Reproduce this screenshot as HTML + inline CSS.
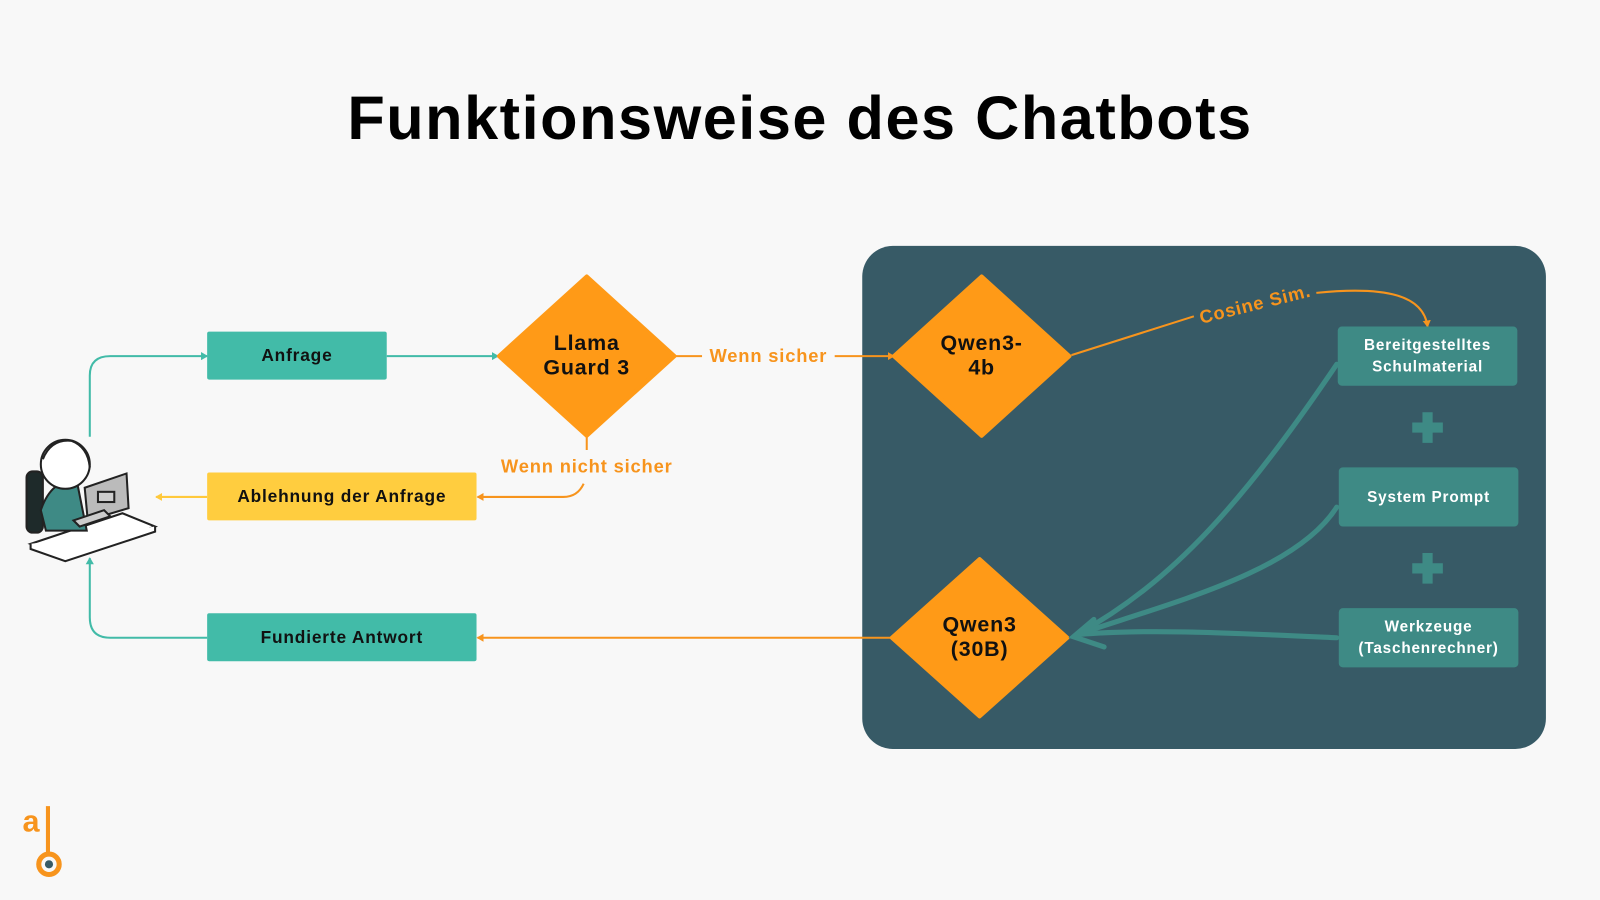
<!DOCTYPE html>
<html><head><meta charset="utf-8"><style>
html,body{margin:0;padding:0;background:#f8f8f8;}
svg{display:block}
text{font-family:"Liberation Sans",sans-serif;font-weight:bold;letter-spacing:0.8px;}
</style></head><body>
<svg width="1600" height="900" viewBox="0 0 1568 882" preserveAspectRatio="none" xmlns="http://www.w3.org/2000/svg">
<defs>
<marker id="at" markerWidth="8" markerHeight="8" refX="6" refY="4" orient="auto" markerUnits="userSpaceOnUse"><path d="M0,0 L7,4 L0,8 z" fill="#42bba8"/></marker>
<marker id="ao" markerWidth="8" markerHeight="8" refX="6" refY="4" orient="auto" markerUnits="userSpaceOnUse"><path d="M0,0 L7,4 L0,8 z" fill="#f7941d"/></marker>
<marker id="ay" markerWidth="8" markerHeight="8" refX="6" refY="4" orient="auto" markerUnits="userSpaceOnUse"><path d="M0,0 L7,4 L0,8 z" fill="#ffc93c"/></marker>
</defs>
<rect width="1568" height="882" fill="#f8f8f8"/>
<text x="784" y="136" text-anchor="middle" font-size="60" fill="#000" style="letter-spacing:1.5px">Funktionsweise des Chatbots</text>
<rect x="845" y="241" width="670" height="493" rx="30" fill="#375a66"/>
<path d="M88,428 V368 Q88,349 108,349 H203" fill="none" stroke="#42bba8" stroke-width="2" marker-end="url(#at)"/>
<path d="M379,349 H488" fill="none" stroke="#42bba8" stroke-width="2" marker-end="url(#at)"/>
<path d="M203,625 H108 Q88,625 88,605 V547" fill="none" stroke="#42bba8" stroke-width="2" marker-end="url(#at)"/>
<path d="M660,349 H688 M818,349 H876" fill="none" stroke="#f7941d" stroke-width="2" marker-end="url(#ao)"/>
<path d="M575,427 V441" stroke="#f7941d" stroke-width="2"/>
<path d="M572,474 Q566,487 552,487 H468" fill="none" stroke="#f7941d" stroke-width="2" marker-end="url(#ao)"/>
<path d="M203,487 H153" fill="none" stroke="#ffc93c" stroke-width="2" marker-end="url(#ay)"/>
<path d="M874,625 H468" fill="none" stroke="#f7941d" stroke-width="2" marker-end="url(#ao)"/>
<rect x="203" y="325" width="176" height="47" rx="2" fill="#42bba8"/>
<text x="291" y="354" text-anchor="middle" font-size="17" fill="#111">Anfrage</text>
<rect x="203" y="463" width="264" height="47" rx="2" fill="#ffcd3f"/>
<text x="335" y="492" text-anchor="middle" font-size="17" fill="#111">Ablehnung der Anfrage</text>
<rect x="203" y="601" width="264" height="47" rx="2" fill="#42bba8"/>
<text x="335" y="630" text-anchor="middle" font-size="17" fill="#111">Fundierte Antwort</text>
<text x="575" y="463" text-anchor="middle" font-size="18" fill="#f7941d">Wenn nicht sicher</text>
<text x="753" y="355" text-anchor="middle" font-size="18" fill="#f7941d">Wenn sicher</text>
<path d="M575,271 L661,349 L575,427 L489,349 z" fill="#ff9a17" stroke="#ff9a17" stroke-linejoin="round" stroke-width="4"/>
<text x="575" y="343" text-anchor="middle" font-size="21" fill="#111">Llama</text>
<text x="575" y="367" text-anchor="middle" font-size="21" fill="#111">Guard 3</text>
<path d="M962,271 L1048,349 L962,427 L876,349 z" fill="#ff9a17" stroke="#ff9a17" stroke-linejoin="round" stroke-width="4"/>
<text x="962" y="343" text-anchor="middle" font-size="21" fill="#111">Qwen3-</text>
<text x="962" y="367" text-anchor="middle" font-size="21" fill="#111">4b</text>
<path d="M960,548 L1046,625 L960,702 L874,625 z" fill="#ff9a17" stroke="#ff9a17" stroke-linejoin="round" stroke-width="4"/>
<text x="960" y="619" text-anchor="middle" font-size="21" fill="#111">Qwen3</text>
<text x="960" y="643" text-anchor="middle" font-size="21" fill="#111">(30B)</text>
<path d="M1050,348 L1170,310" stroke="#f7941d" stroke-width="2" fill="none"/>
<path d="M1290,287 C1360,280 1395,290 1399,320" stroke="#f7941d" stroke-width="2" fill="none" marker-end="url(#ao)"/>
<text x="1230" y="304" text-anchor="middle" font-size="18" fill="#f7941d" transform="rotate(-14 1230 298)">Cosine Sim.</text>
<rect x="1311" y="320" width="176" height="58" rx="4" fill="#3e8a85"/>
<text x="1399" y="343" text-anchor="middle" font-size="15" fill="#fff">Bereitgestelltes</text>
<text x="1399" y="364" text-anchor="middle" font-size="15" fill="#fff">Schulmaterial</text>
<rect x="1312" y="458" width="176" height="58" rx="4" fill="#3e8a85"/>
<text x="1400" y="492" text-anchor="middle" font-size="15" fill="#fff">System Prompt</text>
<rect x="1312" y="596" width="176" height="58" rx="4" fill="#3e8a85"/>
<text x="1400" y="619" text-anchor="middle" font-size="15" fill="#fff">Werkzeuge</text>
<text x="1400" y="640" text-anchor="middle" font-size="15" fill="#fff">(Taschenrechner)</text>
<path d="M1399,404 V434 M1384,419 H1414 M1399,542 V572 M1384,557 H1414" stroke="#3e8a85" stroke-width="10"/>
<g stroke="#3e8a85" stroke-width="5" fill="none" stroke-linecap="round">
<path d="M1310,357 C1220,490 1150,570 1055,622"/>
<path d="M1310,497 C1270,560 1150,590 1055,622"/>
<path d="M1310,625 C1200,620 1120,616 1055,622"/>
<path d="M1072,607 L1052,624 L1082,634"/>
</g>
<g stroke="#222" stroke-width="2">
<path d="M30,533 L120,503 L152,516 L64,545 z" fill="#fff"/>
<path d="M30,533 V538 L64,550 L152,521 V516" fill="#fff"/>
<rect x="26" y="462" width="16" height="60" rx="6" fill="#1e2a2a"/>
<path d="M40,500 Q50,470 75,470 L85,520 L45,520 z" fill="#3e8a85"/>
<circle cx="64" cy="455" r="24" fill="#fff"/>
<path d="M42,450 Q50,430 70,432 Q86,438 88,458" fill="none"/>
<path d="M83,478 L124,464 L126,498 L86,510 z" fill="#bbb"/>
<rect x="96" y="482" width="16" height="10" fill="#ccc"/>
<path d="M72,510 L102,500 L108,506 L78,516 z" fill="#ccc"/>
</g>
<text x="22" y="815" font-size="30" fill="#f7941d">a</text>
<path d="M47,790 V835" stroke="#f7941d" stroke-width="4"/>
<circle cx="48" cy="847" r="10" fill="none" stroke="#f7941d" stroke-width="5"/>
<circle cx="48" cy="847" r="4" fill="#375a66"/>
</svg>
</body></html>
